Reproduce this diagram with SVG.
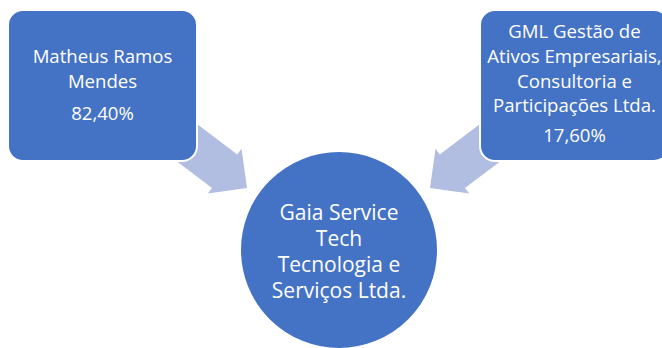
<svg xmlns="http://www.w3.org/2000/svg" width="662" height="348" viewBox="0 0 662 348">
  <style>
    .node { fill: #4472C4; stroke: #FFFFFF; stroke-width: 2; }
    .arrow { fill: #B1BEE1; }
    .label { font-family: "Open Sans", "Liberation Sans", sans-serif; fill: #FFFFFF; text-anchor: middle; }
    .small { font-size: 18.6px; }
    .big { font-size: 21px; }
  </style>
  <defs>
    <!-- block arrow pointing along +x, tip at origin -->
    <polygon id="blockArrow" points="0,0 -28,-28 -28,-21 -90,-21 -90,21 -28,21 -28,28"/>
  </defs>
  <rect width="662" height="348" fill="#FFFFFF"/>

  <g id="connectors">
    <use href="#blockArrow" class="arrow" transform="translate(247,188) rotate(37)"/>
    <use href="#blockArrow" class="arrow" transform="translate(430,188) rotate(143)"/>
  </g>

  <g id="node-matheus">
    <rect class="node" x="8" y="10" width="189" height="151" rx="15" ry="15"/>
    <text class="label small" x="102.5" y="63">Matheus Ramos</text>
    <text class="label small" x="102.5" y="88">Mendes</text>
    <text class="label small" x="102.5" y="120">82,40%</text>
  </g>

  <g id="node-gml">
    <rect class="node" x="480" y="10" width="189" height="151" rx="15" ry="15"/>
    <text class="label small" x="574.5" y="38">GML Gestão de</text>
    <text class="label small" x="574.5" y="63">Ativos Empresariais,</text>
    <text class="label small" x="574.5" y="88">Consultoria e</text>
    <text class="label small" x="574.5" y="112">Participações Ltda.</text>
    <text class="label small" x="574.5" y="142">17,60%</text>
  </g>

  <g id="node-gaia">
    <circle class="node" cx="339" cy="250" r="99"/>
    <text class="label big" x="339" y="220">Gaia Service</text>
    <text class="label big" x="339" y="246">Tech</text>
    <text class="label big" x="339" y="272">Tecnologia e</text>
    <text class="label big" x="339" y="298">Serviços Ltda.</text>
  </g>
</svg>
